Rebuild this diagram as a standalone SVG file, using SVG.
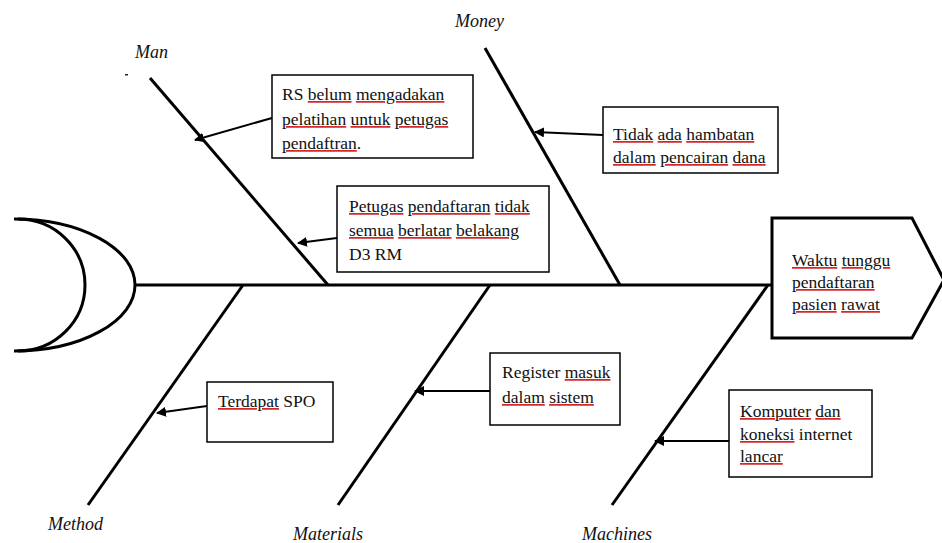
<svg xmlns="http://www.w3.org/2000/svg" width="942" height="543" viewBox="0 0 942 543">
<defs>
<style>
.bone{stroke:#000;stroke-width:3;fill:none;stroke-linecap:butt}
.arr{stroke:#000;stroke-width:2;fill:none;marker-end:url(#ah)}
.box{fill:#fff;stroke:#000;stroke-width:1.5}
text{font-family:'Liberation Serif','Times New Roman',serif}
.t{font-size:17.5px;fill:#111}
.lbl{font-size:18px;font-style:italic;fill:#111}
.sp{text-decoration:underline;fill:#d42828}
.sp tspan{fill:#111}
</style>
<marker id="ah" viewBox="0 0 10 10" refX="9" refY="5" markerWidth="5" markerHeight="5" orient="auto" markerUnits="strokeWidth">
<path d="M0,0 L10,5 L0,10 z" fill="#000"/>
</marker>
</defs>
<rect width="942" height="543" fill="#fff"/>
<g id="tail">
<path class="bone" d="M14,219 A121,66 0 0 1 135,285 A121,66 0 0 1 14,351"/>
<path class="bone" d="M18,219 A67,66 0 0 1 85,285 A67,66 0 0 1 18,351"/>
</g>
<g id="connectors">
<line class="bone" x1="135" y1="285" x2="772" y2="285"/>
<line class="bone" x1="150" y1="78" x2="328" y2="285"/>
<line class="bone" x1="485" y1="48" x2="620" y2="285"/>
<line class="bone" x1="243" y1="285" x2="88" y2="505"/>
<line class="bone" x1="490" y1="285" x2="338" y2="505"/>
<line class="bone" x1="768" y1="285" x2="612" y2="505"/>
<line class="arr" x1="272" y1="118" x2="195" y2="140"/>
<line class="arr" x1="337" y1="238" x2="298" y2="243"/>
<line class="arr" x1="603" y1="135" x2="535" y2="132"/>
<line class="arr" x1="207" y1="406" x2="157" y2="413"/>
<line class="arr" x1="490" y1="391" x2="415" y2="391"/>
<line class="arr" x1="729" y1="441" x2="655" y2="441"/>
</g>
<g id="labels">
<text class="lbl" x="135" y="58">Man</text>
<rect x="125" y="74" width="3" height="1.5" fill="#222"/>
<text class="lbl" x="455" y="27">Money</text>
<text class="lbl" x="48" y="530">Method</text>
<text class="lbl" x="293" y="540">Materials</text>
<text class="lbl" x="582" y="540">Machines</text>
</g>
<g id="head">
<polygon class="box" style="stroke-width:3" points="772,218 912,218 944,280 912,338 772,338"/>
<text class="t" x="792" y="266"><tspan class="sp"><tspan>Waktu</tspan></tspan> <tspan class="sp"><tspan>tunggu</tspan></tspan></text>
<text class="t" x="792" y="288"><tspan class="sp"><tspan>pendaftaran</tspan></tspan></text>
<text class="t" x="792" y="310"><tspan class="sp"><tspan>pasien</tspan></tspan> <tspan class="sp"><tspan>rawat</tspan></tspan></text>
</g>
<g id="node-rs">
<rect class="box" x="272" y="75" width="201" height="83"/>
<text class="t" x="282" y="100">RS <tspan class="sp"><tspan>belum</tspan></tspan> <tspan class="sp"><tspan>mengadakan</tspan></tspan></text>
<text class="t" x="282" y="125"><tspan class="sp"><tspan>pelatihan</tspan></tspan> <tspan class="sp"><tspan>untuk</tspan></tspan> <tspan class="sp"><tspan>petugas</tspan></tspan></text>
<text class="t" x="282" y="149"><tspan class="sp"><tspan>pendaftran</tspan></tspan>.</text>
</g>
<g id="node-petugas">
<rect class="box" x="337" y="186" width="212" height="86"/>
<text class="t" x="349" y="212"><tspan class="sp"><tspan>Petugas</tspan></tspan> <tspan class="sp"><tspan>pendaftaran</tspan></tspan> <tspan class="sp"><tspan>tidak</tspan></tspan></text>
<text class="t" x="349" y="236"><tspan class="sp"><tspan>semua</tspan></tspan> <tspan class="sp"><tspan>berlatar</tspan></tspan> <tspan class="sp"><tspan>belakang</tspan></tspan></text>
<text class="t" x="349" y="260">D3 RM</text>
</g>
<g id="node-tidak">
<rect class="box" x="603" y="107" width="175" height="66"/>
<text class="t" x="613" y="140"><tspan class="sp"><tspan>Tidak</tspan></tspan> <tspan class="sp"><tspan>ada</tspan></tspan> <tspan class="sp"><tspan>hambatan</tspan></tspan></text>
<text class="t" x="613" y="163"><tspan class="sp"><tspan>dalam</tspan></tspan> <tspan class="sp"><tspan>pencairan</tspan></tspan> <tspan class="sp"><tspan>dana</tspan></tspan></text>
</g>
<g id="node-spo">
<rect class="box" x="207" y="382" width="126" height="60"/>
<text class="t" x="218" y="407"><tspan class="sp"><tspan>Terdapat</tspan></tspan> SPO</text>
</g>
<g id="node-register">
<rect class="box" x="490" y="353" width="130" height="72"/>
<text class="t" x="502" y="378">Register <tspan class="sp"><tspan>masuk</tspan></tspan></text>
<text class="t" x="502" y="403"><tspan class="sp"><tspan>dalam</tspan></tspan> <tspan class="sp"><tspan>sistem</tspan></tspan></text>
</g>
<g id="node-komputer">
<rect class="box" x="729" y="390" width="143" height="87"/>
<text class="t" x="740" y="417"><tspan class="sp"><tspan>Komputer</tspan></tspan> <tspan class="sp"><tspan>dan</tspan></tspan></text>
<text class="t" x="740" y="440"><tspan class="sp"><tspan>koneksi</tspan></tspan> internet</text>
<text class="t" x="740" y="462"><tspan class="sp"><tspan>lancar</tspan></tspan></text>
</g>
</svg>
